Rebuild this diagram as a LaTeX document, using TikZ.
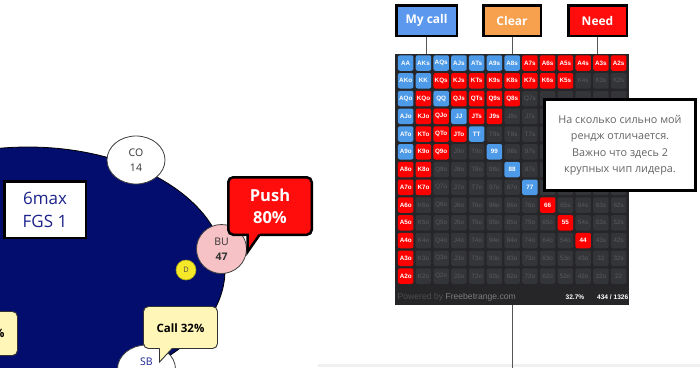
\documentclass[tikz,border=0pt]{standalone}
\usepackage{fontspec}
\setmainfont{Open Sans}
\newfontfamily\arialf{Liberation Sans}
\usetikzlibrary{shapes.geometric}
\definecolor{tablenavy}{RGB}{3,13,110}
\definecolor{bluec}{RGB}{77,154,232}
\definecolor{hdrblue}{RGB}{92,152,238}
\definecolor{redc}{RGB}{255,0,0}
\definecolor{hdrred}{RGB}{255,12,12}
\definecolor{orangec}{RGB}{247,160,78}
\definecolor{panelbg}{RGB}{38,38,41}
\definecolor{emptyc}{RGB}{52,53,57}
\definecolor{emptytxt}{RGB}{92,92,96}
\definecolor{pinkc}{RGB}{246,194,198}
\definecolor{yellowd}{RGB}{245,232,40}
\definecolor{callfill}{RGB}{255,246,183}
\definecolor{notetxt}{RGB}{100,100,100}
\definecolor{navytxt}{RGB}{28,36,140}
\definecolor{seattxt}{RGB}{50,50,50}
\definecolor{linegray}{RGB}{85,85,85}
\definecolor{footdark}{RGB}{78,78,80}
\definecolor{footlight}{RGB}{125,125,128}
\definecolor{stripgray}{RGB}{240,240,240}
\foreach \p in {0-0,0-1,0-2,0-3,0-4,0-5,0-6,1-0,1-1,2-0,2-2,3-0,3-3,4-0,4-4,5-0,5-5,6-6,7-7}{\expandafter\xdef\csname hcol\p\endcsname{bluec}}
\foreach \p in {0-7,0-8,0-9,0-10,0-11,0-12,1-2,1-3,1-4,1-5,1-6,1-7,1-8,1-9,2-1,2-3,2-4,2-5,2-6,3-1,3-2,3-4,3-5,4-1,4-2,4-3,5-1,5-2,6-0,6-1,7-0,7-1,8-0,8-8,9-0,9-9,10-0,10-10,11-0,12-0}{\expandafter\xdef\csname hcol\p\endcsname{redc}}
\tikzset{
  hdrbox/.style={draw=black, line width=2.5, minimum height=30.5, inner sep=0, text=white, font=\bfseries\fontsize{12}{14}\selectfont},
  hdrline/.style={draw=linegray, line width=1},
  cellbox/.style={rounded corners=2, minimum size=15.5, inner sep=0, font=\arialf\fontsize{6.3}{7}\selectfont},
  seat/.style={ellipse, draw=black!75, line width=0.8, inner sep=0, align=center, font=\fontsize{10.5}{15.5}\selectfont, text=seattxt},
  callbox/.style={draw=black!80, line width=0.9, fill=callfill, rounded corners=5, inner sep=0},
  calltext/.style={font=\bfseries\fontsize{11.5}{13}\selectfont, text=black, inner sep=0},
  pushbox/.style={draw=black, line width=2.5, fill=hdrred, rounded corners=5, inner sep=0, align=center, text=white, font=\bfseries\fontsize{16.5}{22}\selectfont},
}
\begin{document}
\begin{tikzpicture}[x=1pt,y=-1pt]
\useasboundingbox (0,0) rectangle (700,367);
\clip (0,0) rectangle (700,367);
\fill[white] (0,0) rectangle (700,367);
% table
\draw[fill=tablenavy, draw=black, line width=0.8] (28,270) ellipse [x radius=197, y radius=123];
\node[draw=black, line width=2.5, fill=white, minimum width=81.5, minimum height=56.5, inner sep=0, align=center, text=navytxt, font=\fontsize{17}{23}\selectfont] (info) at (45,209.5) {6max\\FGS 1};
\node[seat, fill=white, minimum width=58, minimum height=48] (co) at (136,160) {CO\\14};
\node[seat, fill=pinkc, minimum width=50, minimum height=49] (bu) at (221.5,249) {BU\\\textbf{47}};
\node[circle, fill=yellowd, draw=yellowd!70!black, line width=0.6, minimum size=20, inner sep=0, font=\fontsize{7.5}{8}\selectfont, text=black!70] (dealer) at (186,270) {D};
\node[seat, fill=white, minimum width=58, minimum height=48] (sb) at (146.5,369) {};
\node[font=\fontsize{10.5}{12}\selectfont, text=navytxt, inner sep=0] (sbt) at (146.5,362) {SB};
% call callout
\node[callbox, minimum width=74, minimum height=42] (call) at (180.5,327.5) {};
\node[calltext] (callt) at (180.5,328.5) {Call 32\%};
\coordinate (calltip) at (159.5,362);
\fill[callfill] (159.5,347.3) -- (173.1,347.3) -- (calltip) -- cycle;
\draw[black!80, line width=0.9, line join=miter] (159.5,348.3) -- (calltip) -- (172.1,348.5);
% push callout
\node[pushbox, minimum width=83.5, minimum height=57.5] (push) at (270,206) {Push\\80\%};
\coordinate (pushtip) at (247.5,252);
\fill[hdrred] (247.5,233) -- (260.3,233) -- (pushtip) -- cycle;
\draw[black, line width=2.5, line join=miter] (247.5,233.8) -- (pushtip) -- (259.5,234.8);
% left callout
\node[callbox, minimum width=75, minimum height=44] (lcall) at (-20,333.5) {};
\node[calltext, anchor=east] (lcallt) at (4.8,333) {\%};
% range panel
\node[fill=panelbg, minimum width=234, minimum height=251, inner sep=0, anchor=north west] (panel) at (395,54) {};
\foreach \ri [count=\i from 0] in {A,K,Q,J,T,9,8,7,6,5,4,3,2}{
 \foreach \rj [count=\j from 0] in {A,K,Q,J,T,9,8,7,6,5,4,3,2}{
   \ifnum\i=\j \edef\lab{\ri\ri}\else\ifnum\j>\i \edef\lab{\ri\rj s}\else\edef\lab{\rj\ri o}\fi\fi
   \ifcsname hcol\i-\j\endcsname
     \edef\fc{\csname hcol\i-\j\endcsname}\def\tc{white}\def\fw{\bfseries}
   \else
     \def\fc{emptyc}\def\tc{emptytxt}\def\fw{}
   \fi
   % cells hidden under the note box carry no visible label
   \ifnum\j>7 \ifnum\i>1 \ifnum\i<8 \def\lab{}\fi\fi\fi
   \node[cellbox, fill=\fc, text=\tc] (c-\i-\j) at ({405.7+17.75*\j},{63+17.75*\i}) {\fw\lab};
 }
}
\node[anchor=west, inner sep=0, font=\arialf\fontsize{8.6}{10}\selectfont] (powered) at (397.5,297) {\textcolor{footdark}{Powered by} \textcolor{footlight}{Freebetrange.com}};
\node[anchor=east, inner sep=0, text=white, font=\arialf\bfseries\fontsize{6.6}{8}\selectfont] (pct) at (584.5,297) {32.7\%};
\node[anchor=east, inner sep=0, text=white, font=\arialf\bfseries\fontsize{6.6}{8}\selectfont] (cnt) at (628.5,297) {434 / 1326};
% note
\node[draw=black, line width=3.2, fill=white, minimum width=151, minimum height=91, inner sep=0, align=center, text=notetxt, font=\fontsize{10.8}{16.5}\selectfont] (note) at (620,145) {На сколько сильно мой\\рендж отличается.\\Важно что здесь 2\\крупных чип лидера.};
% headers
\node[hdrbox, fill=hdrblue, minimum width=60.5] (mycall) at (426.5,20.5) {My call};
\node[hdrbox, fill=orangec, minimum width=57.5] (clear) at (512,20.5) {Clear};
\node[hdrbox, fill=hdrred, minimum width=58.5] (need) at (597.5,20.5) {Need};
\draw[hdrline] (mycall.south) -- (mycall.south |- panel.north);
\draw[hdrline] (clear.south) -- (clear.south |- panel.north);
\draw[hdrline] (need.south) -- (need.south |- panel.north);
% bottom strip and line
\fill[stripgray] (318,363.5) rectangle (700,367);
\coordinate (botend) at (512,368);
\draw[hdrline] (clear.south |- panel.south) -- (botend);
\end{tikzpicture}
\end{document}
